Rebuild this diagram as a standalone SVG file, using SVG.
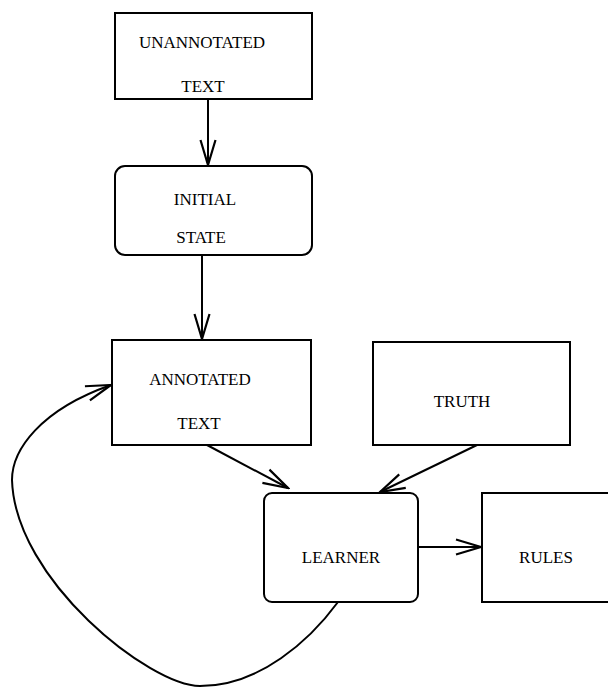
<svg xmlns="http://www.w3.org/2000/svg" width="608" height="687" viewBox="0 0 608 687">
<style>
.box{fill:#fff;stroke:#000;stroke-width:2}
.lbl{font-family:"Liberation Serif","Times New Roman",serif;font-size:17px;fill:#000;text-anchor:middle}
.edge{fill:none;stroke:#000;stroke-width:2}
</style>
<defs>
<marker id="arr" markerUnits="userSpaceOnUse" viewBox="-28 -10 30 20" refX="0" refY="0" markerWidth="30" markerHeight="20" orient="auto">
<path d="M-25,-7.5 L0,0 L-25,7.5" fill="none" stroke="#000" stroke-width="2.2"/>
</marker>
</defs>
<rect width="608" height="687" fill="#fff"/>
<g id="edges">
<line class="edge" x1="208" y1="99" x2="208" y2="165" marker-end="url(#arr)"/>
<line class="edge" x1="202" y1="255" x2="202" y2="339" marker-end="url(#arr)"/>
<line class="edge" x1="207" y1="445" x2="288" y2="488" marker-end="url(#arr)"/>
<line class="edge" x1="477" y1="445" x2="380" y2="492" marker-end="url(#arr)"/>
<line class="edge" x1="418" y1="547" x2="481" y2="547" marker-end="url(#arr)"/>
<path class="edge" d="M338,602 C310,640 260,686 200,686 C150,686 15,580 12,480 C12,450 40,410 111,385" marker-end="url(#arr)"/>
</g>
<g id="unannotated-text">
<rect class="box" x="115" y="13" width="197" height="86"/>
<text class="lbl" x="202" y="48">UNANNOTATED</text>
<text class="lbl" x="203" y="92">TEXT</text>
</g>
<g id="initial-state">
<rect class="box" x="115" y="166" width="197" height="89" rx="10" ry="10"/>
<text class="lbl" x="205" y="205">INITIAL</text>
<text class="lbl" x="201" y="243">STATE</text>
</g>
<g id="annotated-text">
<rect class="box" x="112" y="340" width="199" height="105"/>
<text class="lbl" x="200" y="385">ANNOTATED</text>
<text class="lbl" x="199" y="429">TEXT</text>
</g>
<g id="truth">
<rect class="box" x="373" y="342" width="197" height="103"/>
<text class="lbl" x="462" y="407">TRUTH</text>
</g>
<g id="learner">
<rect class="box" x="264" y="493" width="154" height="109" rx="8" ry="8"/>
<text class="lbl" x="341" y="563">LEARNER</text>
</g>
<g id="rules">
<rect class="box" x="482" y="493" width="140" height="109"/>
<text class="lbl" x="546" y="563">RULES</text>
</g>
</svg>
